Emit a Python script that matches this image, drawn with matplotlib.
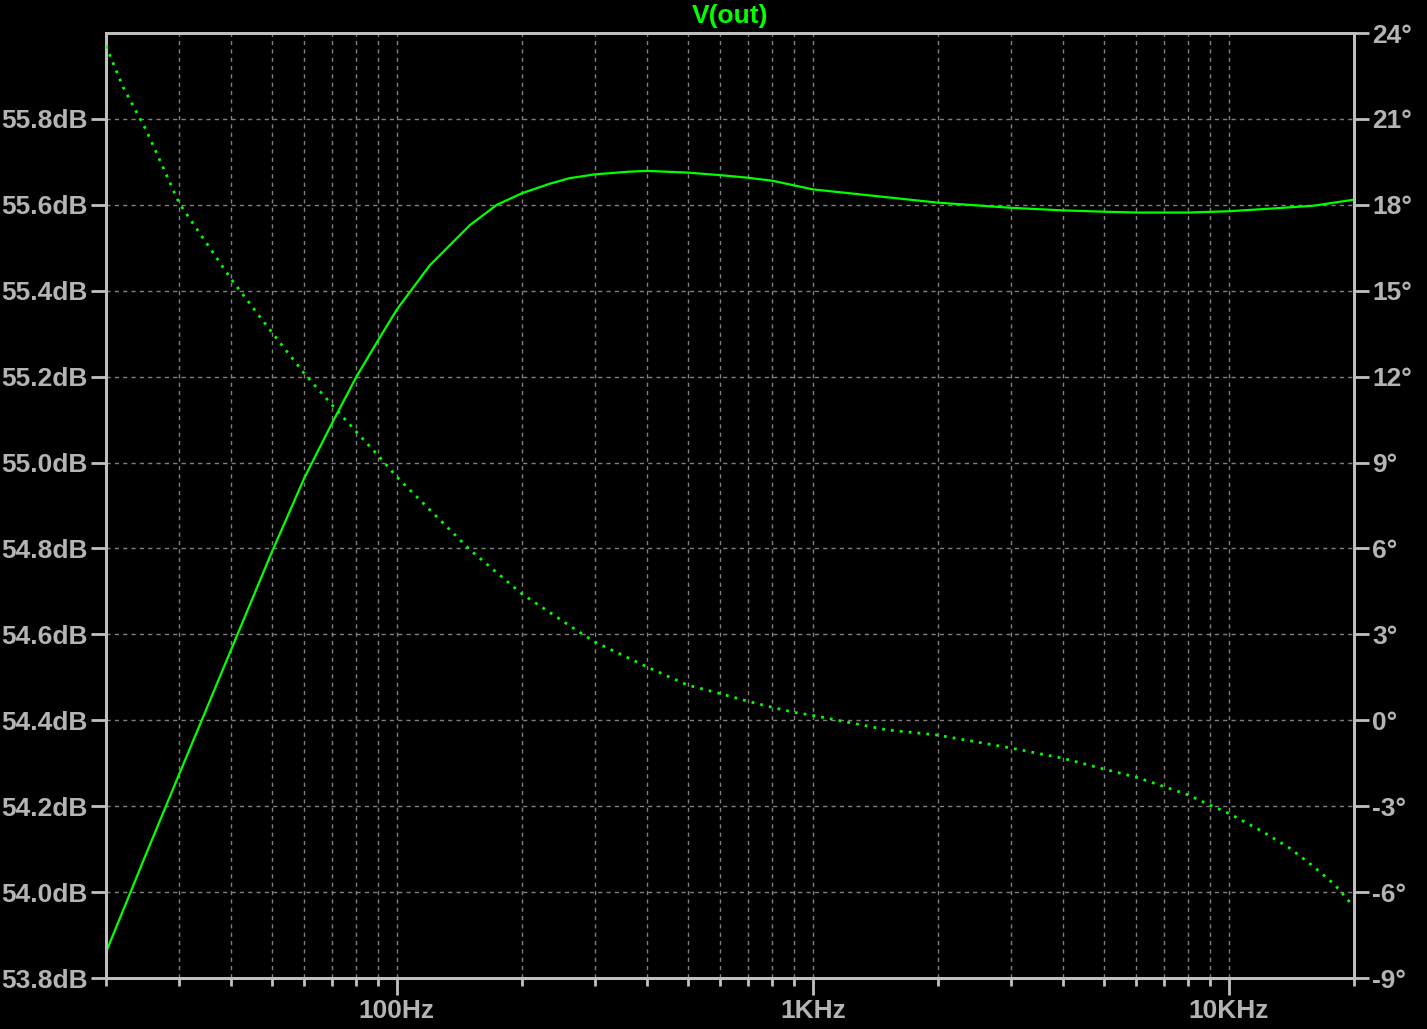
import matplotlib
matplotlib.use("Agg")
import matplotlib.pyplot as plt
from matplotlib.ticker import FixedLocator, FuncFormatter, NullFormatter
import numpy as np

# magnitude trace (solid, left axis)
mag_freq = [20, 25, 30, 35, 40, 50, 60, 70, 80, 90, 100, 120, 150, 174, 200, 216,
            233, 260, 300, 360, 400, 500, 600, 700, 800, 1000, 2000, 3000, 4000,
            5000, 6000, 8000, 10000, 13000, 16000, 20000]
mag_db = [53.86, 54.09, 54.275, 54.43, 54.565, 54.79, 54.965, 55.093, 55.2, 55.283,
          55.356, 55.459, 55.553, 55.6, 55.627, 55.638, 55.649, 55.662, 55.671,
          55.677, 55.679, 55.675, 55.669, 55.663, 55.656, 55.636, 55.605, 55.593,
          55.587, 55.584, 55.582, 55.582, 55.585, 55.592, 55.598, 55.612]

# phase trace (dotted, right axis)
ph_freq = [20, 22, 25, 30, 40, 50, 60, 70, 80, 90, 100, 150, 200, 280, 300, 400,
           500, 600, 700, 800, 900, 1000, 1500, 2000, 3000, 4000, 5000, 6000, 7000,
           8000, 9000, 10000, 12000, 14000, 16000, 18000, 20000]
ph_deg = [23.55, 22.1, 20.6, 18.05, 15.4, 13.56, 12.1, 11.0, 10.07, 9.26, 8.5, 5.95,
          4.41, 3.0, 2.73, 1.86, 1.23, 0.93, 0.66, 0.45, 0.28, 0.17, -0.33, -0.52,
          -0.97, -1.33, -1.70, -1.99, -2.32, -2.61, -2.96, -3.25, -3.87, -4.46,
          -5.11, -5.75, -6.52]

db_ticks = [53.8, 54.0, 54.2, 54.4, 54.6, 54.8, 55.0, 55.2, 55.4, 55.6, 55.8]
deg_ticks = [-9, -6, -3, 0, 3, 6, 9, 12, 15, 18, 21, 24]
x_major = [100, 1000, 10000]
x_labels = ["100Hz", "1KHz", "10KHz"]

GREEN = "#00ff00"
TXT = "#b4b4b4"
GRID = "#808080"

plt.rcParams['font.family'] = ['Liberation Sans', 'DejaVu Sans']

fig = plt.figure(figsize=(14.27, 10.29), dpi=100, facecolor="black")
ax = fig.add_axes([106 / 1427, 1 - 978 / 1029, 1248 / 1427, 945 / 1029])
ax.set_facecolor("black")
ax2 = ax.twinx()

ax.plot(mag_freq, mag_db, color=GREEN, lw=1.6, zorder=3)
ax2.plot(ph_freq, ph_deg, color=GREEN, lw=2.0, linestyle=(0, (1, 2.2)), zorder=3)

ax.set_xscale("log")
ax.set_xlim(20, 20000)
ax.set_ylim(53.8, 56.0)
ax2.set_ylim(-9, 24)

minor = []
for dec in [10, 100, 1000, 10000]:
    for k in range(2, 10):
        v = dec * k
        if 20 <= v <= 20000:
            minor.append(v)
ax.xaxis.set_major_locator(FixedLocator(x_major))
ax.xaxis.set_minor_locator(FixedLocator(minor))
ax.xaxis.set_major_formatter(FuncFormatter(lambda v, p: x_labels[x_major.index(v)] if v in x_major else ""))
ax.xaxis.set_minor_formatter(NullFormatter())

ax.yaxis.set_major_locator(FixedLocator(db_ticks))
ax.yaxis.set_major_formatter(FuncFormatter(lambda v, p: "%.1fdB" % v))
ax2.yaxis.set_major_locator(FixedLocator(deg_ticks))
ax2.yaxis.set_major_formatter(FuncFormatter(lambda v, p: "%d°" % round(v)))

# grid
ax.grid(True, which="both", axis="x", color=GRID, linestyle=(0, (3, 3)), lw=1.0)
ax.grid(True, which="major", axis="y", color=GRID, linestyle=(0, (3, 3)), lw=1.0)
ax.set_axisbelow(True)

for a in (ax, ax2):
    for s in a.spines.values():
        s.set_color("#c0c0c0")
        s.set_linewidth(2)

ax.tick_params(axis="y", which="major", length=11, width=2, color="#c0c0c0",
               labelcolor=TXT, labelsize=19, pad=2, direction="out")
ax.tick_params(axis="x", which="major", length=12, width=2, color="#c0c0c0",
               labelcolor=TXT, labelsize=19, pad=3, direction="out")
ax.tick_params(axis="x", which="minor", length=6, width=2, color="#c0c0c0", direction="out")
ax2.tick_params(axis="y", which="major", length=11, width=2, color="#c0c0c0",
                labelcolor=TXT, labelsize=19, pad=2, direction="out")

for lab in ax.get_xticklabels() + ax.get_yticklabels() + ax2.get_yticklabels():
    lab.set_fontweight("bold")

fig.text(730 / 1427, 1 - 16 / 1029, "V(out)", color=GREEN, fontsize=19,
         fontweight="bold", ha="center", va="center")

fig.savefig("out.png", dpi=100, facecolor="black")
